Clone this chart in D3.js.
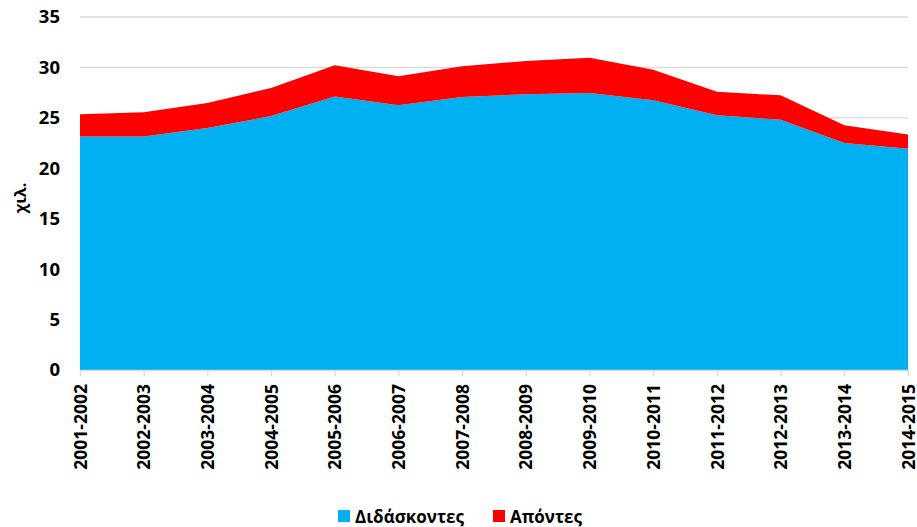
<!DOCTYPE html>
<html>
<head>
<meta charset="utf-8">
<script src="https://cdn.jsdelivr.net/npm/d3@7"></script>
<style>
  body { margin: 0; background: #fff; }
  text { font-family: "Open Sans", sans-serif; font-weight: 700; fill: #000; }
</style>
</head>
<body>
<div id="chart"></div>
<script>
// school years
var years = ["2001-2002","2002-2003","2003-2004","2004-2005","2005-2006","2006-2007","2007-2008",
  "2008-2009","2009-2010","2010-2011","2011-2012","2012-2013","2013-2014","2014-2015"];
// thousands
var didaskontes = [23.16, 23.16, 23.99, 25.18, 27.13, 26.24, 27.06, 27.33, 27.46, 26.74, 25.25, 24.82, 22.5, 21.94];
var apontes = [2.19, 2.39, 2.48, 2.78, 3.08, 2.88, 3.05, 3.31, 3.51, 3.04, 2.35, 2.41, 1.76, 1.42];
var seriesNames = ["Διδάσκοντες", "Απόντες"];
var seriesColors = ["#00b0f0", "#ff0000"];
var yTicks = [0, 5, 10, 15, 20, 25, 30, 35];

var W = 917, H = 527;
var margin = {top: 17, left: 80, right: 9, bottom: 157};
var w = W - margin.left - margin.right,
    h = H - margin.top - margin.bottom;
var font = "'Open Sans', sans-serif";

var svg = d3.select("#chart").append("svg")
    .attr("width", W)
    .attr("height", H);

var g = svg.append("g")
    .attr("transform", "translate(" + margin.left + "," + margin.top + ")");

var x = d3.scalePoint().domain(years).range([0, w]);
var y = d3.scaleLinear().domain([0, 35]).range([h, 0]);

var rows = years.map(function(yr, i) {
  return {year: yr, a: didaskontes[i], b: apontes[i]};
});
var layers = d3.stack().keys(["a", "b"])(rows);

// gridlines
g.selectAll(".grid")
  .data(yTicks.slice(1))
  .enter().append("line")
    .attr("x1", 0).attr("x2", w)
    .attr("y1", function(d) { return y(d); })
    .attr("y2", function(d) { return y(d); })
    .attr("stroke", "#d9d9d9")
    .attr("stroke-width", 1.3);

var area = d3.area()
    .x(function(d) { return x(d.data.year); })
    .y0(function(d) { return y(d[0]); })
    .y1(function(d) { return y(d[1]); });

g.selectAll(".layer")
  .data(layers)
  .enter().append("path")
    .attr("d", area)
    .attr("fill", function(d, i) { return seriesColors[i]; });

// y axis labels
var yAxis = g.append("g")
    .call(d3.axisLeft(y).tickValues(yTicks).tickSize(0).tickPadding(20));
yAxis.select(".domain").remove();
yAxis.selectAll("text")
    .style("font-size", "18.5px")
    .style("font-family", font)
    .style("font-weight", "700");

// x axis
var xAxis = g.append("g")
    .attr("transform", "translate(0," + h + ")")
    .call(d3.axisBottom(x).tickSize(6).tickPadding(6));
xAxis.select(".domain").attr("stroke", "#d9d9d9").attr("stroke-width", 1.3);
xAxis.selectAll(".tick line").attr("stroke", "#d9d9d9").attr("stroke-width", 1.3);
xAxis.selectAll("text")
    .style("font-size", "17.5px")
    .style("font-family", font)
    .style("font-weight", "700")
    .attr("transform", "rotate(-90)")
    .attr("text-anchor", "end")
    .attr("x", -14)
    .attr("y", 0)
    .attr("dy", "0.35em");

// y title
svg.append("text")
    .attr("transform", "translate(26,198) rotate(-90)")
    .attr("text-anchor", "middle")
    .style("font-size", "16px")
    .text("χιλ.");

// legend
var legend = svg.append("g").attr("transform", "translate(338,510)");
var legX = [0, 155];
seriesNames.forEach(function(name, i) {
  var lg = legend.append("g").attr("transform", "translate(" + legX[i] + ",0)");
  lg.append("rect")
    .attr("width", 12).attr("height", 12)
    .attr("fill", seriesColors[i]);
  lg.append("text")
    .attr("x", 17).attr("y", 12.5)
    .style("font-size", "17px")
    .text(name);
});
</script>
</body>
</html>
